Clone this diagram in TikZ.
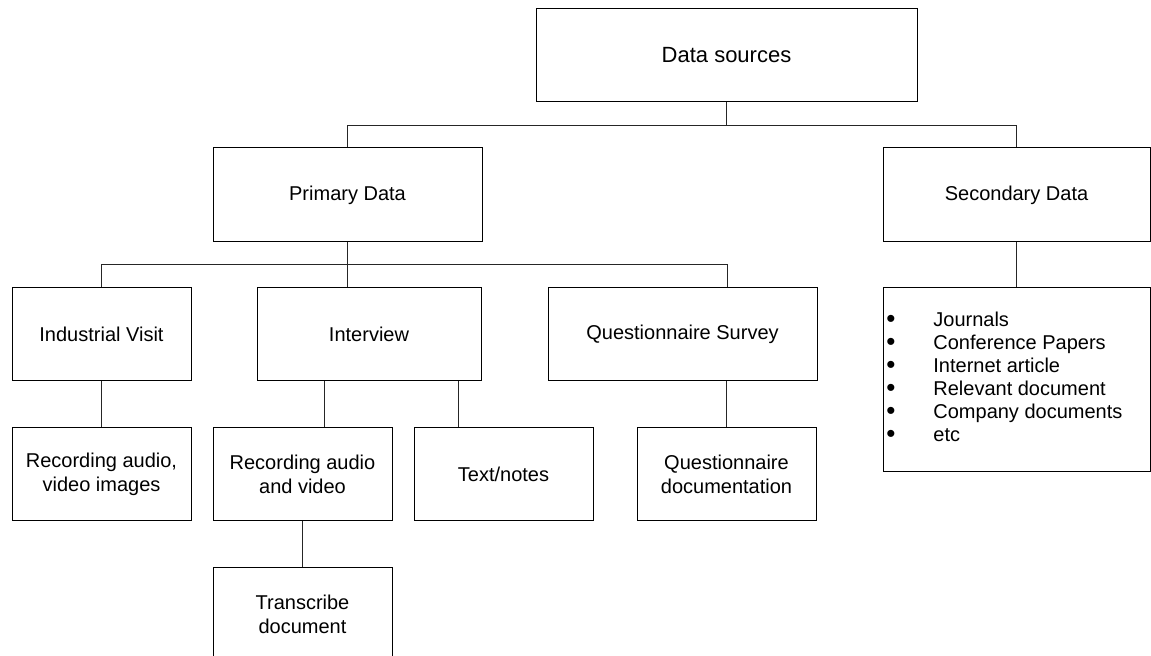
\documentclass[tikz,border=0pt]{standalone}
\usepackage{fontspec}
\setmainfont{Liberation Sans}
\newcommand{\lbul}{\makebox[23.5pt][l]{\raisebox{-0.6pt}{\fontsize{13}{11.5}\selectfont •}}}
\begin{document}
\begin{tikzpicture}[x=0.5pt,y=-0.5pt,
  box/.style={draw=black, line width=0.5pt, inner sep=0pt, align=center, font=\fontsize{10}{12}\selectfont},
  conn/.style={draw=black!85, line width=0.5pt}]
\clip (0,0) rectangle (1151,656);
\fill[white] (0,0) rectangle (1151,656);
% boxes
\node[box, minimum width=190.5pt, minimum height=46.5pt, font=\fontsize{11}{13}\selectfont] (ds) at (726.5,55.5) {Data sources};
\node[box, minimum width=134.5pt, minimum height=47pt] (pd) at (347.5,195) {Primary Data};
\node[box, minimum width=133.5pt, minimum height=47pt] (sd) at (1016.5,195) {Secondary Data};
\node[box, minimum width=89.5pt, minimum height=46.5pt] (iv) at (101.5,334.5) {Industrial Visit};
\node[box, minimum width=112pt, minimum height=46.5pt] (int) at (369,334.5) {Interview};
\node[box, minimum width=134.5pt, minimum height=46.5pt] (qs) at (682.5,334.5) {Questionnaire Survey};
\node[box, minimum width=133.5pt, minimum height=92pt] (lst) at (1016.5,380) {};
\node[box, minimum width=89.5pt, minimum height=46.5pt] (rav) at (101.5,474.5) {Recording audio,\\video images};
\node[box, minimum width=89.5pt, minimum height=46.5pt] (rav2) at (302.5,474.5) {Recording audio\\and video};
\node[box, minimum width=89.5pt, minimum height=46.5pt] (tn) at (503.5,474.5) {Text/notes};
\node[box, minimum width=89.5pt, minimum height=46.5pt] (qd) at (726.5,474.5) {Questionnaire\\documentation};
\node[box, minimum width=89.5pt, minimum height=46.5pt] (td) at (302.5,614.5) {Transcribe\\document};
% list text
\node[anchor=west, align=left, inner sep=0pt, font=\fontsize{10}{11.5}\selectfont] (lt) at (886,377.5)
  {\lbul Journals\\
   \lbul Conference Papers\\
   \lbul Internet article\\
   \lbul Relevant document\\
   \lbul Company documents\\
   \lbul etc};
% connectors
\coordinate (h1) at (0,126);
\coordinate (h2) at (0,265);
\coordinate (xq) at (727,0);
\coordinate (x1) at (324,0);
\coordinate (x2) at (458,0);
\draw[conn] (ds.south) -- (ds.south |- h1);
\draw[conn] (pd.north) -- (pd.north |- h1) -- (sd.north |- h1) -- (sd.north);
\draw[conn] (pd.south) -- (pd.south |- int.north);
\draw[conn] (iv.north) -- (iv.north |- h2) -- (xq |- h2) -- (xq |- qs.north);
\draw[conn] (qd.north) -- (qd.north |- qs.south);
\draw[conn] (iv.south) -- (rav.north);
\draw[conn] (x1 |- int.south) -- (x1 |- rav2.north);
\draw[conn] (x2 |- int.south) -- (x2 |- tn.north);
\draw[conn] (rav2.south) -- (td.north);
\draw[conn] (sd.south) -- (lst.north);
\end{tikzpicture}
\end{document}
